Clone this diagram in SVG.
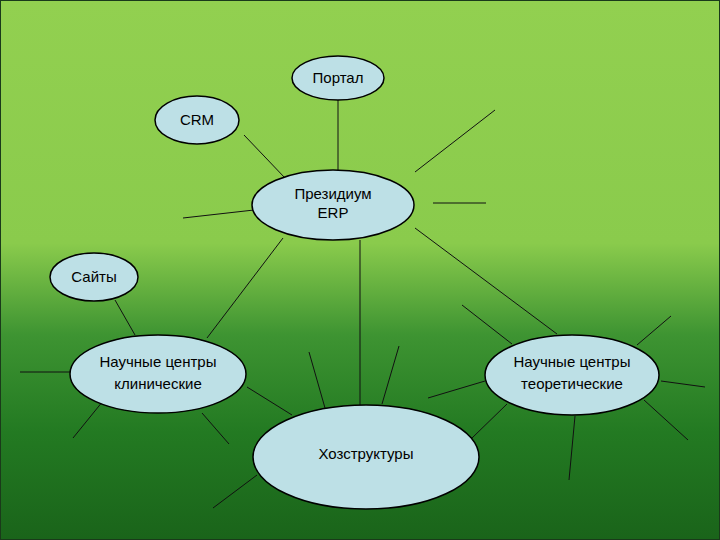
<svg xmlns="http://www.w3.org/2000/svg" width="720" height="540" viewBox="0 0 720 540">
<defs>
<linearGradient id="bg" x1="0" y1="0" x2="0" y2="1">
<stop offset="0" stop-color="#92d050"/>
<stop offset="0.45" stop-color="#8acb4c"/>
<stop offset="0.62" stop-color="#3e9432"/>
<stop offset="0.8" stop-color="#237a22"/>
<stop offset="1" stop-color="#1a641a"/>
</linearGradient>
</defs>
<style>
.n{fill:#bde0e6;stroke:#000;stroke-width:1.5}
.t{font-family:"Liberation Sans",Arial,sans-serif;font-size:15px;fill:#000;text-anchor:middle}
.c line{stroke:#111;stroke-width:1}
</style>
<rect x="0.5" y="0.5" width="719" height="539" fill="url(#bg)" stroke="#1a3a1a" stroke-width="1"/>
<g class="c">
<line x1="338" y1="100" x2="338" y2="171"/>
<line x1="244" y1="135" x2="285" y2="178"/>
<line x1="183" y1="218" x2="254" y2="210"/>
<line x1="415" y1="172" x2="495" y2="110"/>
<line x1="433" y1="203" x2="486" y2="203"/>
<line x1="283" y1="238" x2="207" y2="338"/>
<line x1="360" y1="240" x2="360" y2="405"/>
<line x1="415" y1="228" x2="557" y2="334"/>
<line x1="115" y1="300" x2="135" y2="335"/>
<line x1="20" y1="372" x2="70" y2="372"/>
<line x1="73" y1="438" x2="103" y2="401"/>
<line x1="202" y1="413" x2="229" y2="444"/>
<line x1="247" y1="387" x2="292" y2="415"/>
<line x1="257" y1="475" x2="213" y2="508"/>
<line x1="309" y1="352" x2="325" y2="408"/>
<line x1="399" y1="346" x2="382" y2="404"/>
<line x1="472" y1="438" x2="507" y2="404"/>
<line x1="428" y1="398" x2="485" y2="381"/>
<line x1="462" y1="305" x2="512" y2="344"/>
<line x1="637" y1="345" x2="671" y2="316"/>
<line x1="661" y1="381" x2="705" y2="387"/>
<line x1="644" y1="400" x2="688" y2="440"/>
<line x1="575" y1="416" x2="569" y2="480"/>
</g>
<g id="portal"><ellipse class="n" cx="338" cy="78" rx="46" ry="22"/><text class="t" x="338" y="83">Портал</text></g>
<g id="crm"><ellipse class="n" cx="197" cy="120" rx="42" ry="24"/><text class="t" x="197" y="125">CRM</text></g>
<g id="erp"><ellipse class="n" cx="333" cy="205" rx="81" ry="35" stroke-width="3.5"/><text class="t" x="333" y="199">Президиум</text><text class="t" x="333" y="218">ERP</text></g>
<g id="sites"><ellipse class="n" cx="94" cy="277" rx="44" ry="24"/><text class="t" x="94" y="282">Сайты</text></g>
<g id="clin"><ellipse class="n" cx="158" cy="374" rx="88" ry="39"/><text class="t" x="158" y="367">Научные центры</text><text class="t" x="158" y="389">клинические</text></g>
<g id="theo"><ellipse class="n" cx="572" cy="375" rx="87" ry="40"/><text class="t" x="572" y="367">Научные центры</text><text class="t" x="572" y="389">теоретические</text></g>
<g id="hoz"><ellipse class="n" cx="366" cy="457" rx="113" ry="52"/><text class="t" x="366" y="459">Хозструктуры</text></g>
</svg>
